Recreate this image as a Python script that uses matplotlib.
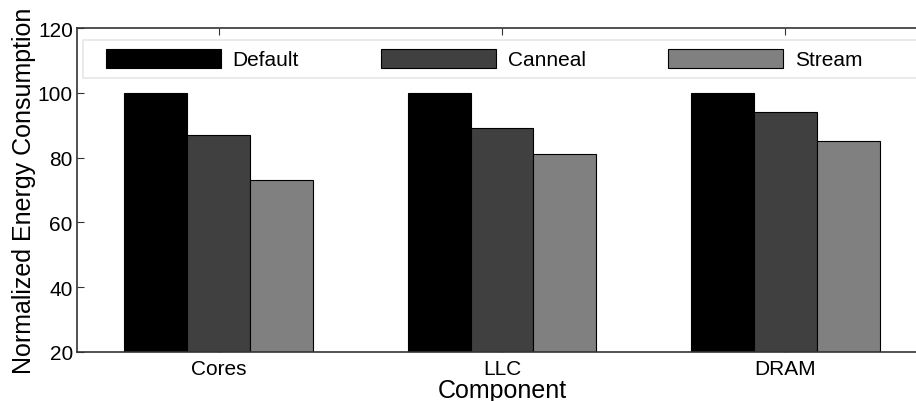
import numpy as np
import matplotlib
matplotlib.use("Agg")
import matplotlib.pyplot as plt
from matplotlib.patches import Rectangle

plt.rcParams['font.family'] = ['Liberation Sans', 'DejaVu Sans']

components = ["Cores", "LLC", "DRAM"]
series = ["Default", "Canneal", "Stream"]
default = [100, 100, 100]
canneal = [87, 89, 94]
stream = [73, 81, 85]
colors = ["#000000", "#404040", "#808080"]


def main():
    fig = plt.figure(figsize=(9.16, 4.02), dpi=100)
    ax = fig.add_axes([77 / 916, 49 / 402, 850 / 916, 324 / 402])

    x = np.arange(1, len(components) + 1)
    w = 0.222
    for i, (name, vals) in enumerate(zip(series, [default, canneal, stream])):
        ax.bar(x + (i - 1) * w, vals, w, color=colors[i], edgecolor="black",
               linewidth=0.8, label=name, zorder=2)

    ax.set_xlim(0.5, 3.5)
    ax.set_ylim(20, 120)
    ax.set_yticks(np.arange(20, 121, 20))
    ax.set_xticks(x)
    ax.set_xticklabels(components)
    ax.tick_params(direction="in", length=5, width=0.8, labelsize=15,
                   top=True, right=True, pad=3, colors="#333333",
                   labelcolor="black")
    ax.tick_params(axis="x", pad=5)
    for s in ax.spines.values():
        s.set_linewidth(1.2)
        s.set_color("#333333")
        s.set_zorder(3)

    ax.set_ylabel("Normalized Energy Consumption", fontsize=18, labelpad=1)
    ax.set_xlabel("Component", fontsize=18, labelpad=0)

    # legend box spans the top of the axes, entries laid out by hand spacing
    ax.add_patch(Rectangle((6 / 850, 0.846), 838 / 850, 0.117,
                           transform=ax.transAxes, facecolor="white",
                           edgecolor="#e6e6e6", linewidth=1.2, zorder=4))
    leg = ax.legend(ncol=3, loc="center left",
                    bbox_to_anchor=(0.0341, 0.904),
                    borderaxespad=0, borderpad=0, fontsize=15,
                    handlelength=5.5, handleheight=1.0, handletextpad=0.58,
                    columnspacing=3.95, frameon=False)
    leg.set_zorder(5)

    fig.savefig("out.png", dpi=100)


if __name__ == "__main__":
    main()
